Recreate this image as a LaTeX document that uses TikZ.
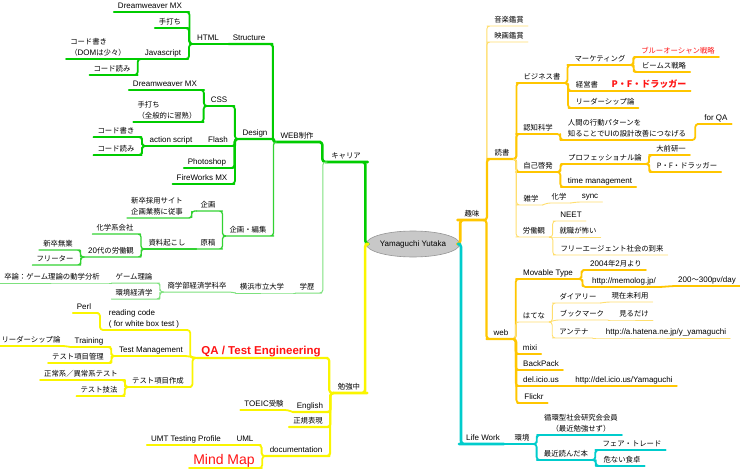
\documentclass[tikz,border=0pt]{standalone}
\usepackage{fontspec}
\setmainfont{Noto Sans CJK JP}[Scale=0.92]
\newfontfamily\latinfont{Liberation Sans}
\usetikzlibrary{calc,shapes.geometric}
\definecolor{CareerGreen}{RGB}{0,204,0}
\definecolor{PlanGreen}{RGB}{50,210,50}
\definecolor{SchoolGreen}{RGB}{125,225,125}
\definecolor{StudyYellow}{RGB}{250,245,0}
\definecolor{HobbyGold}{RGB}{255,198,0}
\definecolor{HobbyPale}{RGB}{255,222,110}
\definecolor{LifeCyan}{RGB}{0,204,204}
\definecolor{AccentRed}{RGB}{255,20,20}
\definecolor{RootGray}{RGB}{200,200,200}
\definecolor{RootEdge}{RGB}{150,150,150}
\tikzset{
    mind/map/.style={
        x=1pt, y=-1pt,
        line cap=round,
        line join=round,
        rounded corners=3pt
    },
    mind/root/.style={
        ellipse, fill=RootGray, draw=RootEdge, line width=0.6pt,
        minimum width=76pt, minimum height=26pt, inner sep=0pt,
        font=\fontsize{8}{9.6}\selectfont\latinfont
    },
    mind/topic/.style={
        anchor=south, inner xsep=4pt, inner ysep=1.5pt, text depth=2pt,
        font=\fontsize{8}{11}\selectfont, text=black
    },
    mind/latin/.style={mind/topic, font=\fontsize{8}{11}\selectfont\latinfont},
    mind/accent/.style={text=AccentRed},
    % a branch runs out of the parent's junction and underlines the child
    mind/left/.style={to path={
        -| ($(\tikztostart)!0.5!(\tikztotarget.south east)$)
        |- (\tikztotarget.south east) -- (\tikztotarget.south west)}},
    mind/right/.style={to path={
        -| ($(\tikztostart)!0.5!(\tikztotarget.south west)$)
        |- (\tikztotarget.south west) -- (\tikztotarget.south east)}},
    mind/leftflat/.style={to path={
        -- (\tikztotarget.south east) -- (\tikztotarget.south west)}},
    mind/rightflat/.style={to path={
        -- (\tikztotarget.south west) -- (\tikztotarget.south east)}},
    mind/top/.style={line width=2.6pt},
    mind/sub/.style={line width=2.2pt},
    mind/leaf/.style={line width=1.8pt},
    mind/career/.style={draw=CareerGreen},
    mind/plan/.style={draw=PlanGreen, line width=1.3pt},
    mind/school/.style={draw=SchoolGreen, line width=1pt},
    mind/study/.style={draw=StudyYellow},
    mind/hobby/.style={draw=HobbyGold},
    mind/pale/.style={draw=HobbyPale, line width=0.9pt},
    mind/life/.style={draw=LifeCyan}
}

\begin{document}
\begin{tikzpicture}[mind/map]
    \useasboundingbox (0,0) rectangle (740,471);
    \node[mind/root] (root) at (413,244) {Yamaguchi Yutaka};

    % キャリア
    \node[mind/topic] (career) at (346,162) {キャリア};
    \node[mind/topic] (web) at (297,142) {{\latinfont WEB}制作};
    \node[mind/latin] (structure) at (249,44) {Structure};
    \node[mind/latin] (html) at (208,44) {HTML};
    \node[mind/latin] (dw1) at (150,12) {Dreamweaver MX};
    \node[mind/topic] (hand1) at (170,28) {手打ち};
    \node[mind/latin] (js) at (163,59) {Javascript};
    \node[mind/topic, align=left] (jswrite) at (98,59) {コード書き\\（{\latinfont DOM}は少々）};
    \node[mind/topic] (jsread) at (112,75) {コード読み};
    \node[mind/latin] (design) at (255,139) {Design};
    \node[mind/latin] (css) at (219,106) {CSS};
    \node[mind/latin] (dw2) at (165,90) {Dreamweaver MX};
    \node[mind/topic, align=left] (hand2) at (167,122) {手打ち\\（全般的に習熟）};
    \node[mind/latin] (flash) at (218,146) {Flash};
    \node[mind/latin] (as) at (171,146) {action script};
    \node[mind/topic] (fwrite) at (116,137) {コード書き};
    \node[mind/topic] (fread) at (116,155) {コード読み};
    \node[mind/latin] (photoshop) at (207,168) {Photoshop};
    \node[mind/latin] (fireworks) at (202,184) {FireWorks MX};
    \node[mind/topic] (plan) at (248,236) {企画・編集};
    \node[mind/topic] (kikaku) at (208,211) {企画};
    \node[mind/topic, align=left] (recruit) at (157,218) {新卒採用サイト\\企画業務に従事};
    \node[mind/topic] (genko) at (208,249) {原稿};
    \node[mind/topic] (shiryo) at (167,249) {資料起こし};
    \node[mind/topic] (chem) at (115,234) {化学系会社};
    \node[mind/topic] (labor20) at (111,257) {{\latinfont 20}代の労働観};
    \node[mind/topic] (mugyo) at (58,250) {新卒無業};
    \node[mind/topic] (freeter) at (55,265) {フリーター};
    \node[mind/topic] (school) at (307,293) {学歴};
    \node[mind/topic] (ycu) at (262,293) {横浜市立大学};
    \node[mind/topic] (shogaku) at (197,292) {商学部経済学科卒};
    \node[mind/topic] (gametheory) at (134,283) {ゲーム理論};
    \node[mind/topic] (env) at (134,299) {環境経済学};
    \node[mind/topic] (thesis) at (52,283) {卒論：ゲーム理論の動学分析};

    \draw[mind/career, mind/top] (root.west) to[mind/left] (career);
    \draw[mind/career, mind/top] (career.south west) to[mind/left] (web);
    \draw[mind/career, mind/sub] (web.south west) to[mind/left] (structure);
    \draw[mind/career, mind/sub, rounded corners=1.2pt] (web.south west) to[mind/left] (design);
    \draw[mind/career, mind/leaf] (structure.south west) to[mind/leftflat] (html);
    \draw[mind/career, mind/leaf] (html.south west) to[mind/left] (dw1);
    \draw[mind/career, mind/leaf] (html.south west) to[mind/left] (hand1);
    \draw[mind/career, mind/leaf] (html.south west) to[mind/left] (js);
    \draw[mind/career, mind/leaf] (js.south west) to[mind/leftflat] (jswrite);
    \draw[mind/career, mind/leaf] (js.south west) to[mind/left] (jsread);
    \draw[mind/career, mind/leaf] (design.south west) to[mind/left] (css);
    \draw[mind/career, mind/leaf] (css.south west) to[mind/left] (dw2);
    \draw[mind/career, mind/leaf] (css.south west) to[mind/left] (hand2);
    \draw[mind/career, mind/leaf] (design.south west) to[mind/left] (flash);
    \draw[mind/career, mind/leaf] (flash.south west) to[mind/leftflat] (as);
    \draw[mind/career, mind/leaf] (as.south west) to[mind/left] (fwrite);
    \draw[mind/career, mind/leaf] (as.south west) to[mind/left] (fread);
    \draw[mind/career, mind/leaf] (design.south west) to[mind/left] (photoshop);
    \draw[mind/career, mind/leaf] (design.south west) to[mind/left] (fireworks);
    \draw[mind/plan] (web.south west) to[mind/left] (plan);
    \draw[mind/plan] (plan.south west) to[mind/left] (kikaku);
    \draw[mind/plan] (kikaku.south west) to[mind/left] (recruit);
    \draw[mind/plan] (plan.south west) to[mind/left] (genko);
    \draw[mind/plan] (genko.south west) to[mind/leftflat] (shiryo);
    \draw[mind/plan] (shiryo.south west) to[mind/left] (chem);
    \draw[mind/plan] (shiryo.south west) to[mind/left] (labor20);
    \draw[mind/plan] (labor20.south west) to[mind/left] (mugyo);
    \draw[mind/plan] (labor20.south west) to[mind/left] (freeter);
    \draw[mind/school] (career.south west) to[mind/left] (school);
    \draw[mind/school] (school.south west) to[mind/leftflat] (ycu);
    \draw[mind/school] (ycu.south west) to[mind/leftflat] (shogaku);
    \draw[mind/school] (shogaku.south west) to[mind/left] (gametheory);
    \draw[mind/school] (shogaku.south west) to[mind/left] (env);
    \draw[mind/school] (gametheory.south west) to[mind/leftflat] (thesis);

    % 勉強中
    \node[mind/topic] (study) at (349,393) {勉強中};
    \node[mind/latin, mind/accent, font=\fontsize{11.5}{13}\selectfont\latinfont\bfseries] (qa) at (261,358) {QA / Test Engineering};
    \node[mind/latin] (english) at (310,412) {English};
    \node[mind/topic] (regex) at (308,427) {正規表現};
    \node[mind/latin] (doc) at (296,456) {documentation};
    \node[mind/latin, align=left] (reading) at (144,330) {reading code\\( for white box test )};
    \node[mind/latin] (perl) at (84,313) {Perl};
    \node[mind/latin] (testmgmt) at (151,356) {Test Management};
    \node[mind/latin] (training) at (89,347) {Training};
    \node[mind/topic] (leader1) at (31,346) {リーダーシップ論};
    \node[mind/topic] (testitem) at (78,363) {テスト項目管理};
    \node[mind/topic] (testcase) at (158,387) {テスト項目作成};
    \node[mind/topic] (normal) at (81,380) {正常系／異常系テスト};
    \node[mind/topic] (technique) at (99,396) {テスト技法};
    \node[mind/topic] (toeic) at (264,410) {{\latinfont TOEIC}受験};
    \node[mind/latin] (uml) at (245,445) {UML};
    \node[mind/latin] (umt) at (186,445) {UMT Testing Profile};
    \node[mind/latin, mind/accent, font=\fontsize{14}{16}\selectfont\latinfont] (mindmap) at (224,468) {Mind Map};

    \draw[mind/study, mind/top] (root.west) to[mind/left] (study);
    \draw[mind/study, mind/sub] (study.south west) to[mind/left] (qa);
    \draw[mind/study, mind/sub] (study.south west) to[mind/left] (english);
    \draw[mind/study, mind/sub] (study.south west) to[mind/left] (regex);
    \draw[mind/study, mind/sub] (study.south west) to[mind/left] (doc);
    \draw[mind/study, mind/leaf] (qa.south west) to[mind/left] (reading);
    \draw[mind/study, mind/leaf] (reading.south west) to[mind/left] (perl);
    \draw[mind/study, mind/leaf] (qa.south west) to[mind/leftflat] (testmgmt);
    \draw[mind/study, mind/leaf] (testmgmt.south west) to[mind/left] (training);
    \draw[mind/study, mind/leaf] (training.south west) to[mind/leftflat] (leader1);
    \draw[mind/study, mind/leaf] (testmgmt.south west) to[mind/left] (testitem);
    \draw[mind/study, mind/leaf] (qa.south west) to[mind/left] (testcase);
    \draw[mind/study, mind/leaf] (testcase.south west) to[mind/left] (normal);
    \draw[mind/study, mind/leaf] (testcase.south west) to[mind/left] (technique);
    \draw[mind/study, mind/leaf] (english.south west) to[mind/leftflat] (toeic);
    \draw[mind/study, mind/leaf] (doc.south west) to[mind/left] (uml);
    \draw[mind/study, mind/leaf] (uml.south west) to[mind/leftflat] (umt);
    \draw[mind/study, mind/leaf] (doc.south west) to[mind/left] (mindmap);

    % 趣味
    \node[mind/topic] (hobby) at (472,220) {趣味};
    \node[mind/topic] (music) at (509,26) {音楽鑑賞};
    \node[mind/topic] (movie) at (509,42) {映画鑑賞};
    \node[mind/topic] (books) at (502,159) {読書};
    \node[mind/topic] (biz) at (542,83) {ビジネス書};
    \node[mind/topic] (marketing) at (600,65) {マーケティング};
    \node[mind/topic, mind/accent] (blueocean) at (678,57) {ブルーオーシャン戦略};
    \node[mind/topic] (beams) at (664,72) {ビームス戦略};
    \node[mind/topic] (mgmt) at (587,91) {経営書};
    \node[mind/topic, mind/accent, font=\fontsize{9.8}{11}\selectfont\bfseries] (drucker1) at (649,91) {P・F・ドラッガー};
    \node[mind/topic] (leader2) at (605,108) {リーダーシップ論};
    \node[mind/topic] (cog) at (538,134) {認知科学};
    \node[mind/topic, align=left] (hci) at (627,140) {人間の行動パターンを\\知ることで{\latinfont UI}の設計改善につなげる};
    \node[mind/latin] (forqa) at (716,124) {for QA};
    \node[mind/topic] (selfdev) at (538,172) {自己啓発};
    \node[mind/topic] (prof) at (605,164) {プロフェッショナル論};
    \node[mind/topic] (ohmae) at (671,155) {大前研一};
    \node[mind/topic] (drucker2) at (687,172) {P・F・ドラッガー};
    \node[mind/latin] (timemgmt) at (600,187) {time management};
    \node[mind/topic] (misc) at (531,205) {雑学};
    \node[mind/topic] (chemistry) at (559,203) {化学};
    \node[mind/latin] (sync) at (590,202) {sync};
    \node[mind/topic] (laborview) at (534,237) {労働観};
    \node[mind/latin] (neet) at (571,221) {NEET};
    \node[mind/topic] (fear) at (578,237) {就職が怖い};
    \node[mind/topic] (freeagent) at (612,255) {フリーエージェント社会の到来};
    \node[mind/latin] (webr) at (501,339) {web};
    \node[mind/latin] (mt) at (548,279) {Movable Type};
    \node[mind/topic] (since) at (616,270) {{\latinfont 2004}年{\latinfont 2}月より};
    \node[mind/latin] (memolog) at (624,287) {http://memolog.jp/};
    \node[mind/topic] (pv) at (707,286) {{\latinfont 200}〜{\latinfont 300pv/day}};
    \node[mind/topic] (hatena) at (534,322) {はてな};
    \node[mind/topic] (diary) at (578,303) {ダイアリー};
    \node[mind/topic] (unused) at (630,302) {現在未利用};
    \node[mind/topic] (bookmark) at (582,320) {ブックマーク};
    \node[mind/topic] (viewonly) at (634,320) {見るだけ};
    \node[mind/topic] (antenna) at (574,338) {アンテナ};
    \node[mind/latin] (hatenaurl) at (666,338) {http://a.hatena.ne.jp/y\_yamaguchi};
    \node[mind/latin] (mixi) at (530,354) {mixi};
    \node[mind/latin] (backpack) at (541,370) {BackPack};
    \node[mind/latin] (delicious) at (541,386) {del.icio.us};
    \node[mind/latin] (delurl) at (624,386) {http://del.icio.us/Yamaguchi};
    \node[mind/latin] (flickr) at (534,403) {Flickr};

    \draw[mind/hobby, mind/top] (root.east) to[mind/right] (hobby);
    \draw[mind/pale] (hobby.south east) to[mind/right] (music);
    \draw[mind/pale] (hobby.south east) to[mind/right] (movie);
    \draw[mind/hobby, mind/sub] (hobby.south east) to[mind/right] (books);
    \draw[mind/hobby, mind/sub] (hobby.south east) to[mind/right] (webr);
    \draw[mind/hobby, mind/leaf] (books.south east) to[mind/right] (biz);
    \draw[mind/hobby, mind/leaf] (biz.south east) to[mind/right] (marketing);
    \draw[mind/hobby, mind/leaf] (marketing.south east) to[mind/right] (blueocean);
    \draw[mind/hobby, mind/leaf] (marketing.south east) to[mind/right] (beams);
    \draw[mind/hobby, mind/leaf] (biz.south east) to[mind/right] (mgmt);
    \draw[mind/hobby, mind/leaf] (mgmt.south east) to[mind/rightflat] (drucker1);
    \draw[mind/hobby, mind/leaf] (biz.south east) to[mind/right] (leader2);
    \draw[mind/hobby, mind/leaf] (books.south east) to[mind/right] (cog);
    \draw[mind/hobby, mind/leaf] (cog.south east) to[mind/right] (hci);
    \draw[mind/hobby, mind/leaf] (hci.south east) to[mind/right] (forqa);
    \draw[mind/hobby, mind/leaf] (books.south east) to[mind/right] (selfdev);
    \draw[mind/hobby, mind/leaf] (selfdev.south east) to[mind/right] (prof);
    \draw[mind/hobby, mind/leaf] (prof.south east) to[mind/right] (ohmae);
    \draw[mind/hobby, mind/leaf] (prof.south east) to[mind/right] (drucker2);
    \draw[mind/hobby, mind/leaf] (selfdev.south east) to[mind/right] (timemgmt);
    \draw[mind/pale] (books.south east) to[mind/right] (misc);
    \draw[mind/pale] (misc.south east) to[mind/rightflat] (chemistry);
    \draw[mind/pale] (chemistry.south east) to[mind/rightflat] (sync);
    \draw[mind/pale] (books.south east) to[mind/right] (laborview);
    \draw[mind/pale] (laborview.south east) to[mind/right] (neet);
    \draw[mind/pale] (laborview.south east) to[mind/rightflat] (fear);
    \draw[mind/pale] (laborview.south east) to[mind/right] (freeagent);
    \draw[mind/hobby, mind/leaf] (webr.south east) to[mind/right] (mt);
    \draw[mind/hobby, mind/leaf] (mt.south east) to[mind/right] (since);
    \draw[mind/hobby, mind/leaf] (mt.south east) to[mind/right] (memolog);
    \draw[mind/hobby, mind/leaf] (memolog.south east) to[mind/rightflat] (pv);
    \draw[mind/pale] (webr.south east) to[mind/right] (hatena);
    \draw[mind/pale] (hatena.south east) to[mind/right] (diary);
    \draw[mind/pale] (diary.south east) to[mind/rightflat] (unused);
    \draw[mind/pale] (hatena.south east) to[mind/rightflat] (bookmark);
    \draw[mind/pale] (bookmark.south east) to[mind/rightflat] (viewonly);
    \draw[mind/pale] (hatena.south east) to[mind/right] (antenna);
    \draw[mind/pale] (antenna.south east) to[mind/rightflat] (hatenaurl);
    \draw[mind/hobby, mind/leaf] (webr.south east) to[mind/right] (mixi);
    \draw[mind/hobby, mind/leaf] (webr.south east) to[mind/right] (backpack);
    \draw[mind/hobby, mind/leaf] (webr.south east) to[mind/right] (delicious);
    \draw[mind/hobby, mind/leaf] (delicious.south east) to[mind/rightflat] (delurl);
    \draw[mind/hobby, mind/leaf] (webr.south east) to[mind/right] (flickr);

    % Life Work
    \node[mind/latin] (lifework) at (483,444) {Life Work};
    \node[mind/topic] (kankyo) at (522,444) {環境};
    \node[mind/topic, align=center] (junkan) at (581,435) {循環型社会研究会会員\\（最近勉強せず）};
    \node[mind/topic] (recent) at (566,460) {最近読んだ本};
    \node[mind/topic] (fairtrade) at (632,450) {フェア・トレード};
    \node[mind/topic] (danger) at (622,466) {危ない食卓};

    \draw[mind/life, mind/top] (root.east) to[mind/right] (lifework);
    \draw[mind/life, mind/sub] (lifework.south east) to[mind/rightflat] (kankyo);
    \draw[mind/life, mind/leaf] (kankyo.south east) to[mind/right] (junkan);
    \draw[mind/life, mind/leaf] (kankyo.south east) to[mind/right] (recent);
    \draw[mind/life, mind/leaf] (recent.south east) to[mind/right] (fairtrade);
    \draw[mind/life, mind/leaf] (recent.south east) to[mind/right] (danger);
\end{tikzpicture}
\end{document}
